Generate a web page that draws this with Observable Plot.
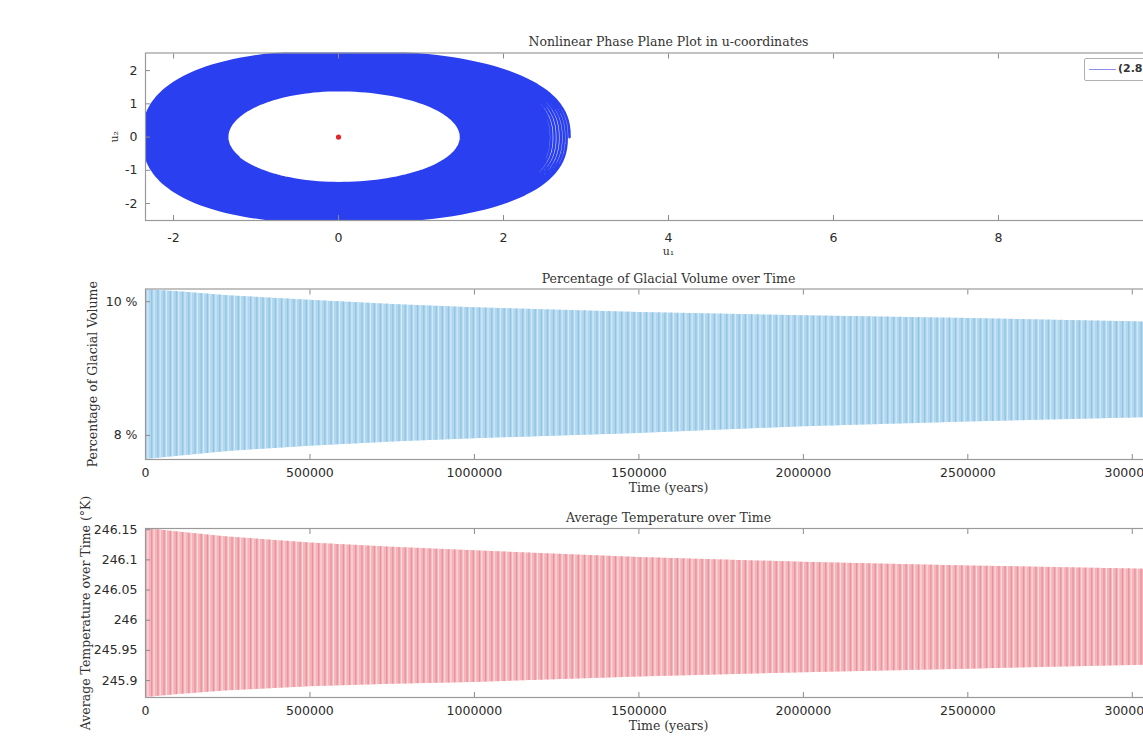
<!DOCTYPE html>
<html><head><meta charset="utf-8">
<script src="https://cdn.jsdelivr.net/npm/d3@7"></script>
<script src="https://cdn.jsdelivr.net/npm/@observablehq/plot@0.6"></script>
<style>
body{margin:0;overflow:hidden;background:#fff}
#fig{position:relative;width:1143px;height:747px;overflow:hidden;background:#fff}
#fig svg.p{position:absolute;left:0;max-width:none !important;width:1250px;overflow:visible}
#legend{position:absolute;left:1084px;top:58px;width:110px;height:21px;border:1px solid #b0b0b0;border-radius:2px;background:#fff;font:bold 11px "DejaVu Sans",sans-serif;color:#333}
#legend .ln{position:absolute;left:4px;top:10px;width:27px;height:0;border-top:1.5px solid #8e8ef2}
#legend .tx{position:absolute;left:33px;top:3px}
</style></head><body><div id="fig"></div><script>
// ---- data ----
const titles = ["Nonlinear Phase Plane Plot in u-coordinates", "Percentage of Glacial Volume over Time", "Average Temperature over Time"];
const legendLabel = "(2.8, 0)";
// envelope sample times (years) and the extreme values of the oscillation at those times
const envelopeTimes = [0, 100000, 250000, 500000, 750000, 1000000, 1500000, 2000000, 2500000, 3000000, 3180000];
const glacialUpper = [10.18, 10.15, 10.09, 10.02, 9.96, 9.91, 9.84, 9.79, 9.75, 9.70, 9.68];
const glacialLower = [7.64, 7.69, 7.76, 7.84, 7.90, 7.95, 8.03, 8.13, 8.20, 8.26, 8.28];
const tempUpper = [246.152, 246.146, 246.138, 246.128, 246.121, 246.115, 246.104, 246.096, 246.090, 246.085, 246.083];
const tempLower = [245.872, 245.877, 245.883, 245.890, 245.894, 245.897, 245.906, 245.913, 245.919, 245.925, 245.927];
const halfCycleYears = 18800;   // spacing of the oscillation strokes
const timeMax = 3180000;
const timeTicks = [0, 500000, 1000000, 1500000, 2000000, 2500000, 3000000];
const glacialTicks = [8, 10];
const tempTicks = [245.9, 245.95, 246, 246.05, 246.1, 246.15];
// phase plane: extents of the outer (start) and inner (end) loop: right, left, top, bottom, shape exponent
const phaseOuter = [2.8, -2.38, 2.58, -2.58, 2.4];
const phaseInner = [1.48, -1.35, 1.41, -1.38, 2.0];
const equilibrium = [{u1: 0, u2: 0}];
const u1Ticks = [-2, 0, 2, 4, 6, 8, 10];
const u2Ticks = [-2, -1, 0, 1, 2];

// ---- build series ----
const gU = d3.scaleLinear(envelopeTimes, glacialUpper), gL = d3.scaleLinear(envelopeTimes, glacialLower);
const tU = d3.scaleLinear(envelopeTimes, tempUpper), tL = d3.scaleLinear(envelopeTimes, tempLower);
const envelope = envelopeTimes.map((t, i) => ({t, gu: glacialUpper[i], gl: glacialLower[i], tu: tempUpper[i], tl: tempLower[i]}));
const strokeTimes = d3.range(0, timeMax + halfCycleYears, halfCycleYears);
const strokes = strokeTimes.map(t => ({t, gu: gU(t), gl: gL(t), tu: tU(t), tl: tL(t)}));
const amp = t => (gU(t) - gL(t)) / (gU(0) - gL(0));
const aEnd = amp(timeMax);
const stepsPerLoop = 140, loopYears = 2 * halfCycleYears;
const phase = [];
for (let i = 0; ; i++) {
  const t = i / stepsPerLoop * loopYears;
  if (t > timeMax) break;
  const f = Math.max(0, (amp(t) - aEnd) / (1 - aEnd));
  const e = phaseOuter.map((o, j) => phaseInner[j] + (o - phaseInner[j]) * f);
  const th = 2 * Math.PI * i / stepsPerLoop, c = Math.cos(th), s = Math.sin(th), q = 2 / e[4];
  phase.push({u1: c >= 0 ? e[0] * Math.pow(c, q) : e[1] * Math.pow(-c, q),
              u2: s >= 0 ? e[2] * Math.pow(s, q) : e[3] * Math.pow(-s, q)});
}

// ---- styling helpers ----
const W = 1250, ML = 145, MR = W - 1191;
const tickFont = {fontFamily: "DejaVu Sans, sans-serif", fontSize: 12.5, fill: "#2b2b2b"};
const serif = {fontFamily: "DejaVu Serif, serif", fontSize: 12.5, fill: "#333"};
const axisCol = "#8a8a8a";
function axes(xTicks, yTicks, xFmt, yFmt, xPad) {
  return [
    Plot.axisX(xTicks, {anchor: "bottom", tickSize: -5, tickPadding: xPad, stroke: axisCol, tickFormat: xFmt, label: null, ...tickFont}),
    Plot.axisX(xTicks, {anchor: "top", tickSize: -5, stroke: axisCol, tickFormat: () => "", label: null}),
    Plot.axisY(yTicks, {anchor: "left", tickSize: -5, tickPadding: 13, stroke: axisCol, tickFormat: yFmt, label: null, ...tickFont}),
    Plot.frame({stroke: "#9a9a9a", strokeWidth: 1.2})
  ];
}
function place(svg, top) { svg.classList.add("p"); svg.style.top = top + "px"; svg.style.maxWidth = "none"; svg.style.overflow = "visible"; return svg; }
const fig = document.getElementById("fig");

// ---- plot 1: phase plane ----
fig.appendChild(place(Plot.plot({
  width: W, height: 262, marginLeft: ML, marginRight: MR, marginTop: 52.5, marginBottom: 42,
  x: {domain: [-2.34, 10.34]}, y: {domain: [-2.51, 2.53]},
  marks: [
    Plot.line(phase, {x: "u1", y: "u2", stroke: "#2a3ff0", strokeWidth: 2.6, clip: true}),
    Plot.dot(equilibrium, {x: "u1", y: "u2", r: 2.6, fill: "#e2262b", stroke: "none"}),
    ...axes(u1Ticks, u2Ticks, d => String(d), d => String(d), 18),
    Plot.text([titles[0]], {frameAnchor: "top", dy: -15.5, ...serif}),
    Plot.text(["u\u2081"], {frameAnchor: "bottom", dy: 34, ...serif, fontSize: 11}),
    Plot.text(["u\u2082"], {frameAnchor: "left", dx: -31, rotate: -90, textAnchor: "middle", ...serif, fontSize: 11})
  ]
}), 0));

// ---- plot 2: glacial volume ----
fig.appendChild(place(Plot.plot({
  width: W, height: 238, marginLeft: ML, marginRight: MR, marginTop: 26.5, marginBottom: 41,
  x: {domain: [0, timeMax]}, y: {domain: [7.64, 10.19]},
  marks: [
    Plot.areaY(envelope, {x: "t", y1: "gl", y2: "gu", fill: "#b1d7ee", clip: true}),
    Plot.ruleX(strokes, {x: "t", y1: "gl", y2: "gu", stroke: "#d6ebf7", strokeWidth: 1.1, dx: 2.4, clip: true}),
    Plot.ruleX(strokes, {x: "t", y1: "gl", y2: "gu", stroke: "#92c5e5", strokeWidth: 1.3, clip: true}),
    ...axes(timeTicks, glacialTicks, d => String(d), d => d + " %", 13.5),
    Plot.text([titles[1]], {frameAnchor: "top", dy: -14.5, ...serif}),
    Plot.text(["Time (years)"], {frameAnchor: "bottom", dy: 32, ...serif}),
    Plot.text(["Percentage of Glacial Volume"], {frameAnchor: "left", dx: -53, rotate: -90, textAnchor: "middle", ...serif})
  ]
}), 262));

// ---- plot 3: temperature ----
fig.appendChild(place(Plot.plot({
  width: W, height: 247, marginLeft: ML, marginRight: MR, marginTop: 28, marginBottom: 50,
  x: {domain: [0, timeMax]}, y: {domain: [245.872, 246.152]},
  marks: [
    Plot.areaY(envelope, {x: "t", y1: "tl", y2: "tu", fill: "#f4b4b9", clip: true}),
    Plot.ruleX(strokes, {x: "t", y1: "tl", y2: "tu", stroke: "#fbe0e2", strokeWidth: 1.1, dx: 2.4, clip: true}),
    Plot.ruleX(strokes, {x: "t", y1: "tl", y2: "tu", stroke: "#e8939c", strokeWidth: 1.3, clip: true}),
    ...axes(timeTicks, tempTicks, d => String(d), d => String(d), 13.5),
    Plot.text([titles[2]], {frameAnchor: "top", dy: -15, ...serif}),
    Plot.text(["Time (years)"], {frameAnchor: "bottom", dy: 32, ...serif}),
    Plot.text(["Average Temperature over Time (\u00B0K)"], {frameAnchor: "left", dx: -60, rotate: -90, textAnchor: "middle", ...serif})
  ]
}), 500));

// ---- legend ----
const lg = document.createElement("div");
lg.id = "legend";
lg.innerHTML = '<div class="ln"></div><div class="tx"></div>';
lg.querySelector(".tx").textContent = legendLabel;
fig.appendChild(lg);
</script></body></html>
